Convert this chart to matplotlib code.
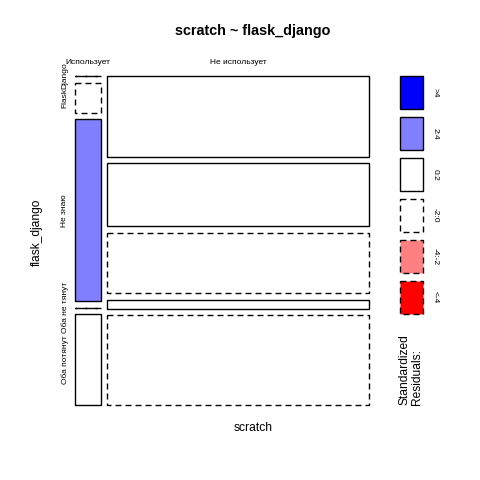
"""Mosaic plot of scratch ~ flask_django with shaded standardized residuals."""
import matplotlib
matplotlib.use("Agg")
import matplotlib.pyplot as plt
from matplotlib.patches import Rectangle
import numpy as np

plt.rcParams["font.family"] = ["Liberation Sans", "DejaVu Sans"]

scratch_levels = ["Использует", "Не использует"]
flask_levels = ["Django", "Flask", "Не знаю", "Оба не тянут", "Оба потянут"]
# counts[scratch][flask_django]
counts_uses = [0, 1, 6, 0, 3]
counts_not = [27, 21, 20, 3, 30]

legend_labels = [">4", "2:4", "0:2", "-2:0", "-4:-2", "<-4"]
legend_colors = ["#0000FF", "#8080FF", "#FFFFFF", "#FFFFFF", "#FF8080", "#FF0000"]
legend_dashed = [False, False, False, True, True, True]

PX = 1 / 480.0
SMALL = 6.0
NORMAL = 8.64
DASH = (0, (4.3, 2.9))


def shade(r):
    if r > 4:
        return legend_colors[0], "solid"
    if r > 2:
        return legend_colors[1], "solid"
    if r >= 0:
        return legend_colors[2], "solid"
    if r > -2:
        return legend_colors[3], DASH
    if r > -4:
        return legend_colors[4], DASH
    return legend_colors[5], DASH


def main():
    tab = np.array([counts_uses, counts_not], dtype=float)
    n = tab.sum()
    expected = tab.sum(axis=1, keepdims=True) * tab.sum(axis=0, keepdims=True) / n
    resid = (tab - expected) / np.sqrt(expected)

    fig = plt.figure(figsize=(4.8, 4.8), dpi=100)

    # mosaic area
    left, right, top, bottom = 75, 369, 76, 405
    ax = fig.add_axes([left * PX, 1 - bottom * PX, (right - left) * PX, (bottom - top) * PX])
    ax.set_xlim(0, 1)
    ax.set_ylim(1, 0)
    ax.axis("off")

    gx = 6.0 / (right - left)
    gy = 6.6 / (bottom - top)
    col_tot = tab.sum(axis=1)
    widths = (1 - gx * (len(col_tot) - 1)) * col_tot / n
    x0 = 0.0
    for i, w in enumerate(widths):
        heights = (1 - gy * (tab.shape[1] - 1)) * tab[i] / col_tot[i]
        y0 = 0.0
        for j, h in enumerate(heights):
            fc, ls = shade(resid[i, j])
            ax.add_patch(Rectangle((x0, y0), w, h, facecolor=fc, edgecolor="black",
                                   linewidth=1.0, linestyle=ls, clip_on=False))
            if i == 0:
                fig.text(65 * PX, 1 - (top + (y0 + h / 2) * (bottom - top)) * PX,
                         flask_levels[j], rotation=90, ha="center", va="center",
                         fontsize=SMALL)
            y0 += h + gy
        fig.text((left + (x0 + w / 2) * (right - left)) * PX, 1 - 63 * PX,
                 scratch_levels[i], ha="center", va="center", fontsize=SMALL)
        x0 += w + gx

    # legend
    lax = fig.add_axes([0, 0, 1, 1])
    lax.set_xlim(0, 480)
    lax.set_ylim(480, 0)
    lax.axis("off")
    box_top = [76, 117, 158, 199, 240, 281]
    for k, lab in enumerate(legend_labels):
        ls = DASH if legend_dashed[k] else "solid"
        lax.add_patch(Rectangle((400, box_top[k]), 23, 33, facecolor=legend_colors[k],
                                edgecolor="black", linewidth=1.0, linestyle=ls))
        lax.text(435, box_top[k] + 16.5, lab, rotation=270, ha="center", va="center",
                 fontsize=SMALL)
    lax.text(399, 405, "Standardized\nResiduals:", rotation=90, ha="left", va="bottom",
             multialignment="left", fontsize=NORMAL, linespacing=0.95)

    fig.text(253 * PX, 1 - 31 * PX, "scratch ~ flask_django", ha="center", va="center",
             fontsize=10.4, fontweight="bold")
    fig.text(253 * PX, 1 - 428 * PX, "scratch", ha="center", va="center", fontsize=NORMAL)
    fig.text(37 * PX, 1 - 232 * PX, "flask_django", rotation=90, ha="center",
             va="center", fontsize=NORMAL)

    fig.savefig("out.png", dpi=100)
    plt.close(fig)


if __name__ == "__main__":
    main()
